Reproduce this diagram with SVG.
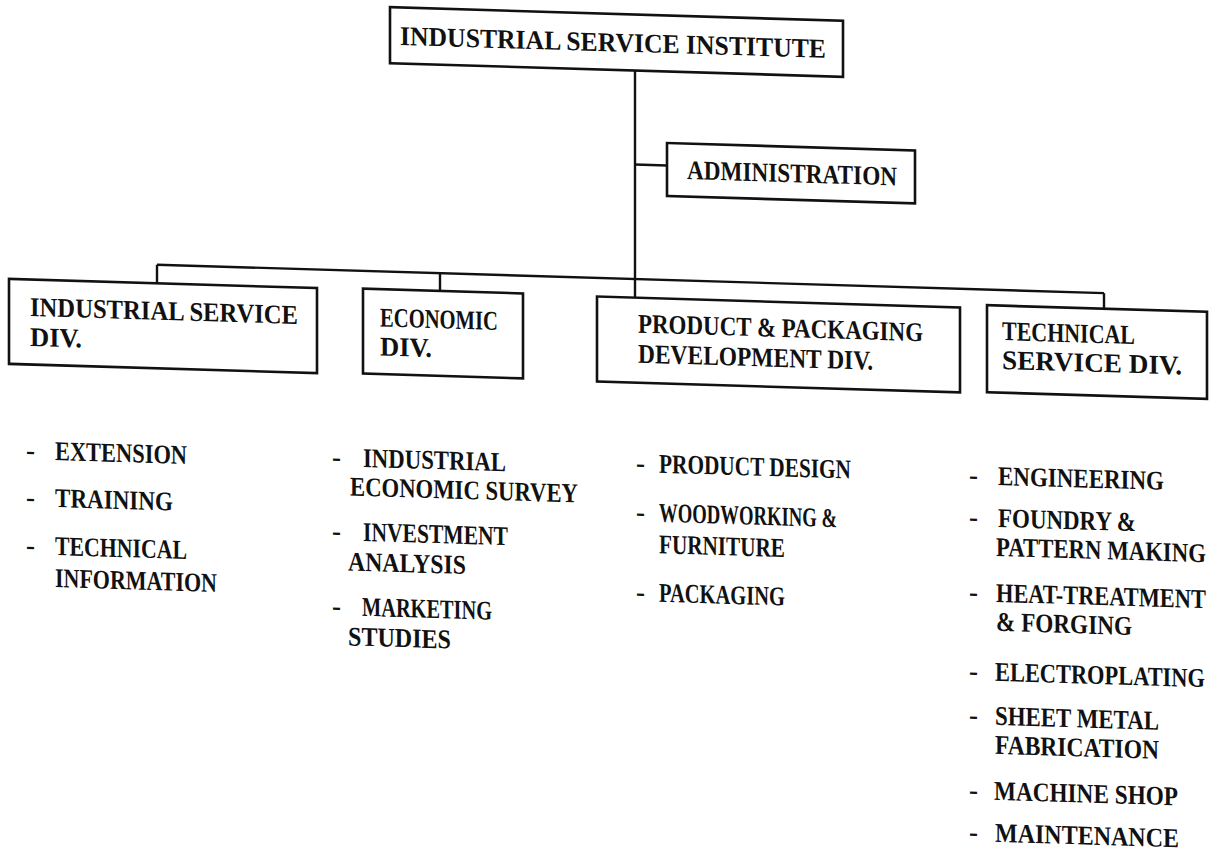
<svg xmlns="http://www.w3.org/2000/svg" width="1219" height="866" viewBox="0 0 1219 866">
  <style>
    .t { font-family: "Liberation Serif", "Times New Roman", serif; font-weight: bold; font-size: 27px; fill: #111; }
    .box { fill: none; stroke: #111; stroke-width: 2.6; }
    .wire { fill: none; stroke: #111; stroke-width: 2.4; }
  </style>
  <rect width="1219" height="866" fill="#fff"/>
  <!-- the typed sheet sits slightly sheared on the page -->
  <g transform="matrix(1 0.03 0 1 0 -18)">
    <g id="connectors">
      <line class="wire" x1="635" y1="69.5" x2="635" y2="296.6"/>
      <line class="wire" x1="635" y1="163.5" x2="667" y2="163.5"/>
      <line class="wire" x1="157" y1="278" x2="1104" y2="278"/>
      <line class="wire" x1="157" y1="278" x2="157" y2="296.6"/>
      <line class="wire" x1="440" y1="278" x2="440" y2="295.7"/>
      <line class="wire" x1="1104" y1="278" x2="1104" y2="293.6"/>
    </g>

    <g id="institute">
      <rect class="box" x="390" y="13.5" width="453" height="56"/>
      <text class="t" x="400" y="51" textLength="426" lengthAdjust="spacingAndGlyphs">INDUSTRIAL SERVICE INSTITUTE</text>
    </g>

    <g id="administration">
      <rect class="box" x="667" y="141" width="248" height="53"/>
      <text class="t" x="687" y="176.5" textLength="210" lengthAdjust="spacingAndGlyphs">ADMINISTRATION</text>
    </g>

    <g id="industrial-service-div">
      <rect class="box" x="9" y="296.6" width="308" height="85"/>
      <text class="t" x="30" y="333" textLength="268" lengthAdjust="spacingAndGlyphs">INDUSTRIAL SERVICE</text>
      <text class="t" x="30" y="363" textLength="52" lengthAdjust="spacingAndGlyphs">DIV.</text>
    </g>

    <g id="economic-div">
      <rect class="box" x="363" y="295.7" width="160" height="85"/>
      <text class="t" x="380" y="333" textLength="118" lengthAdjust="spacingAndGlyphs">ECONOMIC</text>
      <text class="t" x="380" y="362" textLength="52" lengthAdjust="spacingAndGlyphs">DIV.</text>
    </g>

    <g id="product-packaging-div">
      <rect class="box" x="597" y="296.6" width="363" height="85"/>
      <text class="t" x="638" y="331.5" textLength="285" lengthAdjust="spacingAndGlyphs">PRODUCT &amp; PACKAGING</text>
      <text class="t" x="638" y="361.5" textLength="235" lengthAdjust="spacingAndGlyphs">DEVELOPMENT DIV.</text>
    </g>

    <g id="technical-service-div">
      <rect class="box" x="987" y="293.6" width="220" height="87"/>
      <text class="t" x="1002" y="328" textLength="133" lengthAdjust="spacingAndGlyphs">TECHNICAL</text>
      <text class="t" x="1002" y="357" textLength="180" lengthAdjust="spacingAndGlyphs">SERVICE DIV.</text>
    </g>

    <g id="industrial-service-units">
      <text class="t" x="26" y="476.4">-</text>
      <text class="t" x="55" y="476.4" textLength="132" lengthAdjust="spacingAndGlyphs">EXTENSION</text>
      <text class="t" x="26" y="523.4">-</text>
      <text class="t" x="55" y="523.4" textLength="118" lengthAdjust="spacingAndGlyphs">TRAINING</text>
      <text class="t" x="26" y="571.4">-</text>
      <text class="t" x="55" y="571.4" textLength="132" lengthAdjust="spacingAndGlyphs">TECHNICAL</text>
      <text class="t" x="55" y="603.4" textLength="162" lengthAdjust="spacingAndGlyphs">INFORMATION</text>
    </g>

    <g id="economic-units">
      <text class="t" x="332" y="474">-</text>
      <text class="t" x="363" y="474" textLength="143" lengthAdjust="spacingAndGlyphs">INDUSTRIAL</text>
      <text class="t" x="350" y="503" textLength="228" lengthAdjust="spacingAndGlyphs">ECONOMIC SURVEY</text>
      <text class="t" x="332" y="548">-</text>
      <text class="t" x="363" y="548" textLength="145" lengthAdjust="spacingAndGlyphs">INVESTMENT</text>
      <text class="t" x="348" y="578" textLength="118" lengthAdjust="spacingAndGlyphs">ANALYSIS</text>
      <text class="t" x="332" y="623">-</text>
      <text class="t" x="362" y="623" textLength="130" lengthAdjust="spacingAndGlyphs">MARKETING</text>
      <text class="t" x="348" y="653" textLength="103" lengthAdjust="spacingAndGlyphs">STUDIES</text>
    </g>

    <g id="product-packaging-units">
      <text class="t" x="636" y="471">-</text>
      <text class="t" x="659" y="471" textLength="192" lengthAdjust="spacingAndGlyphs">PRODUCT DESIGN</text>
      <text class="t" x="636" y="520">-</text>
      <text class="t" x="659" y="520" textLength="178" lengthAdjust="spacingAndGlyphs">WOODWORKING &amp;</text>
      <text class="t" x="659" y="551.5" textLength="126" lengthAdjust="spacingAndGlyphs">FURNITURE</text>
      <text class="t" x="636" y="600">-</text>
      <text class="t" x="659" y="600" textLength="126" lengthAdjust="spacingAndGlyphs">PACKAGING</text>
    </g>

    <g id="technical-service-units">
      <text class="t" x="969" y="473">-</text>
      <text class="t" x="998" y="473" textLength="166" lengthAdjust="spacingAndGlyphs">ENGINEERING</text>
      <text class="t" x="969" y="515">-</text>
      <text class="t" x="998" y="515" textLength="138" lengthAdjust="spacingAndGlyphs">FOUNDRY &amp;</text>
      <!-- the three widest lines are condensed so they stay inside the right margin -->
      <text class="t" transform="translate(996 544) scale(0.82 1)" textLength="256" lengthAdjust="spacingAndGlyphs">PATTERN MAKING</text>
      <text class="t" x="969" y="590">-</text>
      <text class="t" transform="translate(996 590) scale(0.82 1)" textLength="256" lengthAdjust="spacingAndGlyphs">HEAT-TREATMENT</text>
      <text class="t" x="996" y="619" textLength="136" lengthAdjust="spacingAndGlyphs">&amp; FORGING</text>
      <text class="t" x="969" y="669">-</text>
      <text class="t" transform="translate(995 669) scale(0.82 1)" textLength="256" lengthAdjust="spacingAndGlyphs">ELECTROPLATING</text>
      <text class="t" x="969" y="713">-</text>
      <text class="t" x="995" y="713" textLength="164" lengthAdjust="spacingAndGlyphs">SHEET METAL</text>
      <text class="t" x="995" y="742" textLength="164" lengthAdjust="spacingAndGlyphs">FABRICATION</text>
      <text class="t" x="969" y="788">-</text>
      <text class="t" x="994" y="788" textLength="184" lengthAdjust="spacingAndGlyphs">MACHINE SHOP</text>
      <text class="t" x="969" y="830">-</text>
      <text class="t" x="995" y="830" textLength="184" lengthAdjust="spacingAndGlyphs">MAINTENANCE</text>
    </g>
  </g>
</svg>
